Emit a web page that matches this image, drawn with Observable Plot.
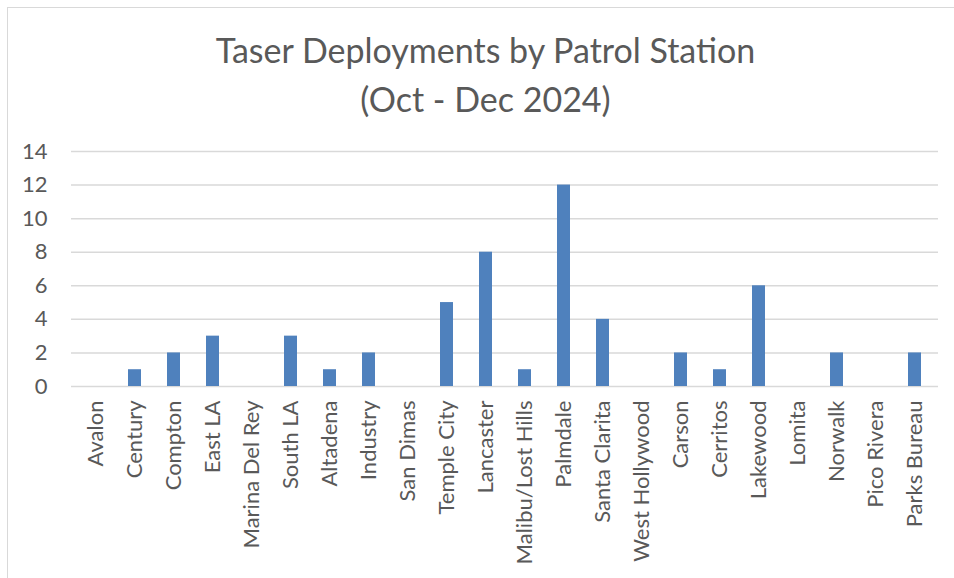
<!DOCTYPE html>
<html>
<head>
<meta charset="utf-8">
<script src="https://cdn.jsdelivr.net/npm/d3@7"></script>
<script src="https://cdn.jsdelivr.net/npm/@observablehq/plot@0.6"></script>
<style>
  html, body { margin: 0; padding: 0; background: #fff; overflow: hidden; }
  #wrap { position: relative; width: 954px; height: 578px; }
  #frame { position: absolute; left: 7px; top: 7px; width: 960px; height: 600px; border: 1.5px solid #d9d9d9; box-sizing: border-box; pointer-events: none; }
</style>
</head>
<body>
<div id="wrap"><div id="frame"></div></div>
<script>
const stations = ["Avalon","Century","Compton","East LA","Marina Del Rey","South LA","Altadena","Industry","San Dimas","Temple City","Lancaster","Malibu/Lost Hills","Palmdale","Santa Clarita","West Hollywood","Carson","Cerritos","Lakewood","Lomita","Norwalk","Pico Rivera","Parks Bureau"];
const deployments = [0,1,2,3,0,3,1,2,0,5,8,1,12,4,0,2,1,6,0,2,0,2];
const yTicks = [0,2,4,6,8,10,12,14];
const titleLines = ["Taser Deployments by Patrol Station", "(Oct - Dec 2024)"];

const data = stations.map((s, i) => ({station: s, value: deployments[i]}));
const font = "Lato, 'Open Sans', sans-serif";

const chart = Plot.plot({
  width: 954,
  height: 578,
  marginLeft: 71,
  marginRight: 16,
  marginTop: 151,
  marginBottom: 192,
  style: {fontFamily: font, color: "#595959", background: "transparent", overflow: "visible"},
  x: {domain: stations, paddingInner: 0.67, paddingOuter: 0.335, label: null},
  y: {domain: [0, 14], label: null},
  marks: [
    Plot.gridY(yTicks, {stroke: "#d9d9d9", strokeOpacity: 1, strokeWidth: 1.5}),
    Plot.barY(data, {x: "station", y: "value", fill: "#4f81bd"}),
    Plot.axisY({ticks: yTicks, tickSize: 0, tickPadding: 24, fontSize: 22, fill: "#595959", label: null}),
    Plot.axisX({tickSize: 0, tickPadding: 14, tickRotate: -90, fontSize: 22, fill: "#595959", label: null}),
    Plot.text([titleLines[0]], {text: d => d, frameAnchor: "top", dx: -19.5, dy: -113, lineAnchor: "top", fontSize: 34, fill: "#595959"}),
    Plot.text([titleLines[1]], {text: d => d, frameAnchor: "top", dx: -19.5, dy: -64, lineAnchor: "top", fontSize: 34, fill: "#595959"})
  ]
});
document.getElementById("wrap").appendChild(chart);
chart.style.position = "absolute";
chart.style.left = "0";
chart.style.top = "0";
</script>
</body>
</html>
